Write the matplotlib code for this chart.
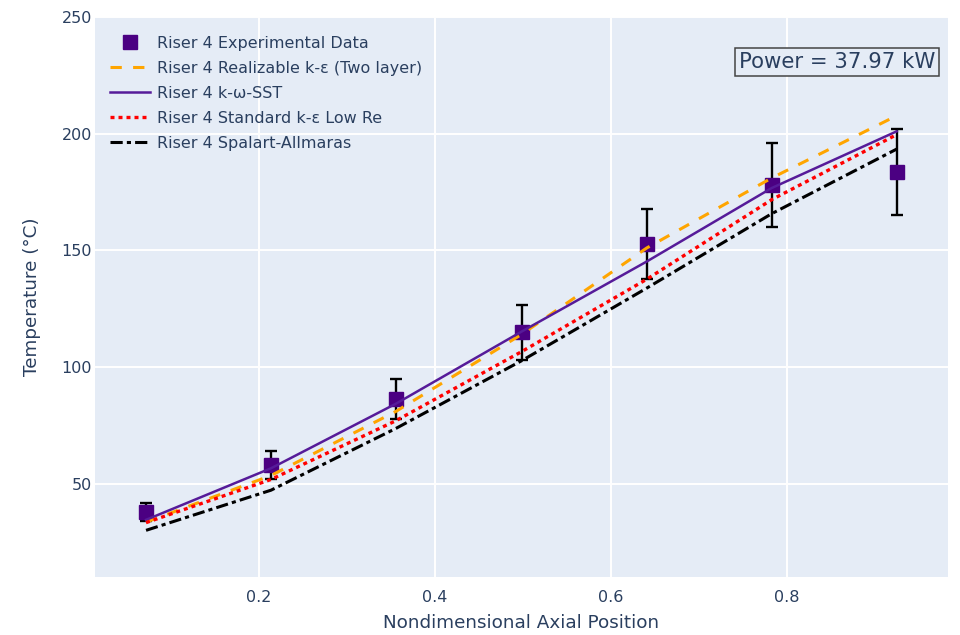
import matplotlib
matplotlib.use("Agg")
import matplotlib.pyplot as plt
from matplotlib.lines import Line2D

plt.rcParams["font.family"] = ["DejaVu Sans"]

TXT = "#2a3f5f"
PLOT_BG = "#E5ECF6"

# axial stations and measured / simulated riser temperatures (°C)
axial_pos = [0.0716, 0.2136, 0.3557, 0.4985, 0.6406, 0.7826, 0.9247]
exp_temp = [37.8, 57.9, 86.3, 114.9, 152.7, 177.8, 183.6]
exp_err = [4.0, 6.0, 8.5, 11.7, 15.0, 18.0, 18.4]
realizable_ke = [33.5, 53.5, 81.0, 114.0, 151.0, 181.0, 207.7]
kw_sst = [34.5, 56.6, 84.3, 115.2, 145.2, 176.7, 201.0]
standard_ke_lowre = [33.3, 51.8, 77.0, 106.6, 137.6, 171.7, 199.6]
spalart_allmaras = [30.0, 47.2, 73.7, 102.7, 133.8, 165.7, 193.4]

y_ticks = [50, 100, 150, 200, 250]
x_ticks = [0.2, 0.4, 0.6, 0.8]
power_kw = 37.97

MARKER_C = "#4B0082"
SST_C = "#561B99"
styles = {
    "real": dict(color="#FFA500", linewidth=2.2, linestyle=(0, (3.7, 3.7))),
    "sst": dict(color=SST_C, linewidth=1.8, linestyle="-"),
    "std": dict(color="#FF0000", linewidth=2.4, linestyle=(0, (1.2, 1.2))),
    "sa": dict(color="black", linewidth=2.2, linestyle=(0, (4, 1.35, 1.35, 1.35))),
}

fig = plt.figure(figsize=(9.6, 6.35), dpi=100)
fig.patch.set_facecolor("white")
ax = fig.add_axes([95 / 960, 1 - 577 / 635, 853 / 960, 560 / 635])
ax.set_facecolor(PLOT_BG)
for s in ax.spines.values():
    s.set_visible(False)
ax.grid(True, color="white", linewidth=1.4)
ax.set_axisbelow(True)

ax.errorbar(axial_pos, exp_temp, yerr=exp_err, fmt="none", ecolor="black",
            elinewidth=1.7, capsize=4, capthick=1.7, zorder=2)
ax.plot(axial_pos, exp_temp, "s", color=MARKER_C, markersize=10, zorder=3)

ax.plot(axial_pos, realizable_ke, zorder=4, **styles["real"])
ax.plot(axial_pos, kw_sst, zorder=4, **styles["sst"])
ax.plot(axial_pos, standard_ke_lowre, zorder=4, **styles["std"])
ax.plot(axial_pos, spalart_allmaras, zorder=4, **styles["sa"])

ax.set_xlim(0.0136, 0.983)
ax.set_ylim(10, 250)
ax.set_xticks(x_ticks)
ax.set_xticklabels([f"{v:.1f}" for v in x_ticks])
ax.set_yticks(y_ticks)
ax.tick_params(axis="both", length=0, labelsize=11.5, labelcolor=TXT)
ax.tick_params(axis="x", pad=9)
ax.tick_params(axis="y", pad=2)

fig.text(521 / 960, 1 - 623 / 635, "Nondimensional Axial Position",
         ha="center", va="center", fontsize=13.2, color=TXT)
fig.text(32 / 960, 1 - 297 / 635, "Temperature (°C)", rotation=90,
         ha="center", va="center", fontsize=13.2, color=TXT)

handles = [
    Line2D([], [], marker="s", linestyle="none", color=MARKER_C, markersize=10),
    Line2D([], [], **styles["real"]),
    Line2D([], [], **styles["sst"]),
    Line2D([], [], **styles["std"]),
    Line2D([], [], **styles["sa"]),
]
labels = [
    "Riser 4 Experimental Data",
    "Riser 4 Realizable k-ε (Two layer)",
    "Riser 4 k-ω-SST",
    "Riser 4 Standard k-ε Low Re",
    "Riser 4 Spalart-Allmaras",
]
leg = fig.legend(handles, labels, loc="upper left",
                 bbox_to_anchor=(110 / 960, 1 - 36 / 635),
                 frameon=False, fontsize=11.5, handlelength=2.5,
                 handletextpad=0.45, labelspacing=0.62, borderpad=0,
                 borderaxespad=0)
for t in leg.get_texts():
    t.set_color(TXT)

fig.text(837 / 960, 1 - 62 / 635, f"Power = {power_kw:.2f} kW",
         ha="center", va="center", fontsize=15.3, color=TXT,
         bbox=dict(boxstyle="square,pad=0.2", facecolor=PLOT_BG,
                   edgecolor="#444444", linewidth=1.1))

fig.savefig("out.png", dpi=100)
